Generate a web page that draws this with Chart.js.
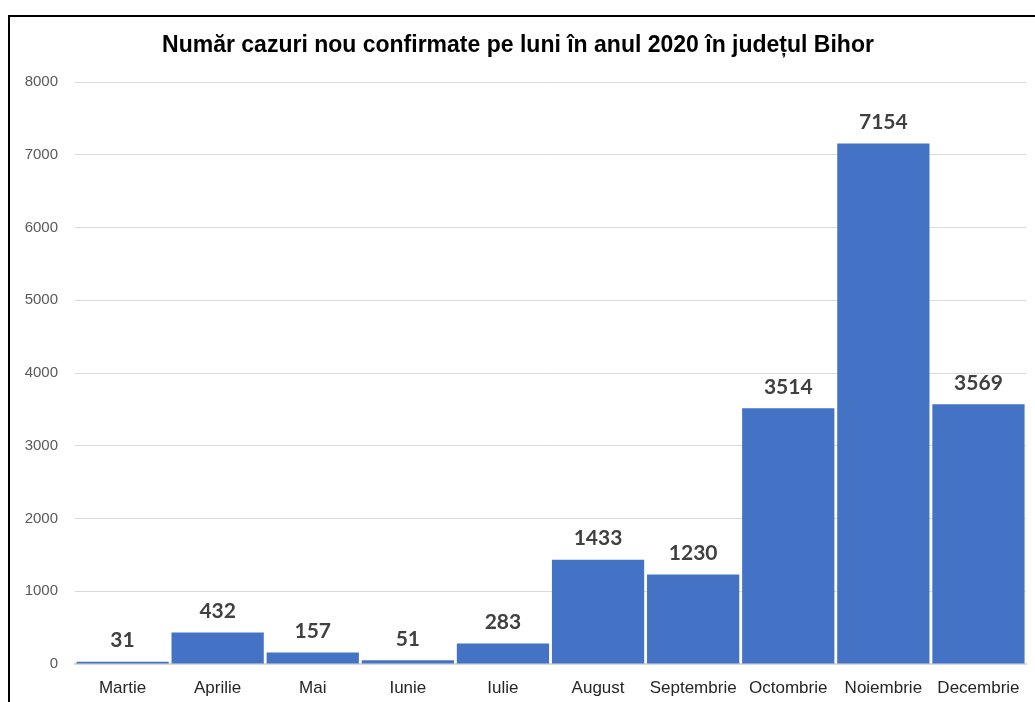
<!DOCTYPE html>
<html>
<head>
<meta charset="utf-8">
<script src="https://cdn.jsdelivr.net/npm/chart.js@4"></script>
<style>
  body { margin: 0; background: #fff; }
  #frame {
    position: absolute; left: 8px; top: 15px;
    width: 1025px; height: 685px;
    border-left: 2px solid #000; border-top: 2px solid #000;
  }
</style>
</head>
<body>
<div id="frame"><canvas id="chart" width="1025" height="685"></canvas></div>
<script>
// luni si cazuri confirmate, Bihor 2020
const months = ["Martie", "Aprilie", "Mai", "Iunie", "Iulie", "August", "Septembrie", "Octombrie", "Noiembrie", "Decembrie"];
const cases = [31, 432, 157, 51, 283, 1433, 1230, 3514, 7154, 3569];
const yTicks = [0, 1000, 2000, 3000, 4000, 5000, 6000, 7000, 8000];

const barLabels = {
    id: "barLabels",
    afterDatasetsDraw(chart) {
        const ctx = chart.ctx;
        const meta = chart.getDatasetMeta(0);
        ctx.save();
        ctx.font = "bold 21px Lato";
        ctx.fillStyle = "#404040";
        ctx.textAlign = "center";
        ctx.textBaseline = "bottom";
        meta.data.forEach((bar, i) => {
            ctx.fillText(cases[i], bar.x, bar.y - 11);
        });
        ctx.restore();
    }
};

new Chart(document.getElementById("chart"), {
    type: "bar",
    data: {
        labels: months,
        datasets: [{
            data: cases,
            backgroundColor: "#4472c4",
            barPercentage: 0.97,
            categoryPercentage: 1
        }]
    },
    options: {
        responsive: false,
        animation: false,
        layout: { padding: { left: 0, right: 9, top: 0, bottom: 0 } },
        plugins: {
            legend: { display: false },
            tooltip: { enabled: false },
            title: {
                display: true,
                text: "Număr cazuri nou confirmate pe luni în anul 2020 în județul Bihor",
                color: "#000",
                font: { family: "Liberation Sans", size: 23, weight: "bold" },
                padding: { top: 15, bottom: 22.4 }
            }
        },
        scales: {
            x: {
                grid: { display: false },
                border: { color: "#d9d9d9", width: 2 },
                ticks: {
                    color: "#262626",
                    font: { family: "Liberation Sans", size: 17 },
                    padding: 6,
                    maxRotation: 0
                },
                afterFit(scale) { scale.height = 38; }
            },
            y: {
                min: 0,
                max: 8000,
                afterBuildTicks(scale) { scale.ticks = yTicks.map(v => ({ value: v })); },
                grid: { color: "#d9d9d9", drawTicks: false },
                border: { display: false },
                ticks: {
                    color: "#595959",
                    font: { family: "Liberation Sans", size: 15 },
                    padding: 17,
                    callback: (v) => String(v)
                },
                afterFit(scale) { scale.width = 65; }
            }
        }
    },
    plugins: [barLabels]
});
</script>
</body>
</html>
